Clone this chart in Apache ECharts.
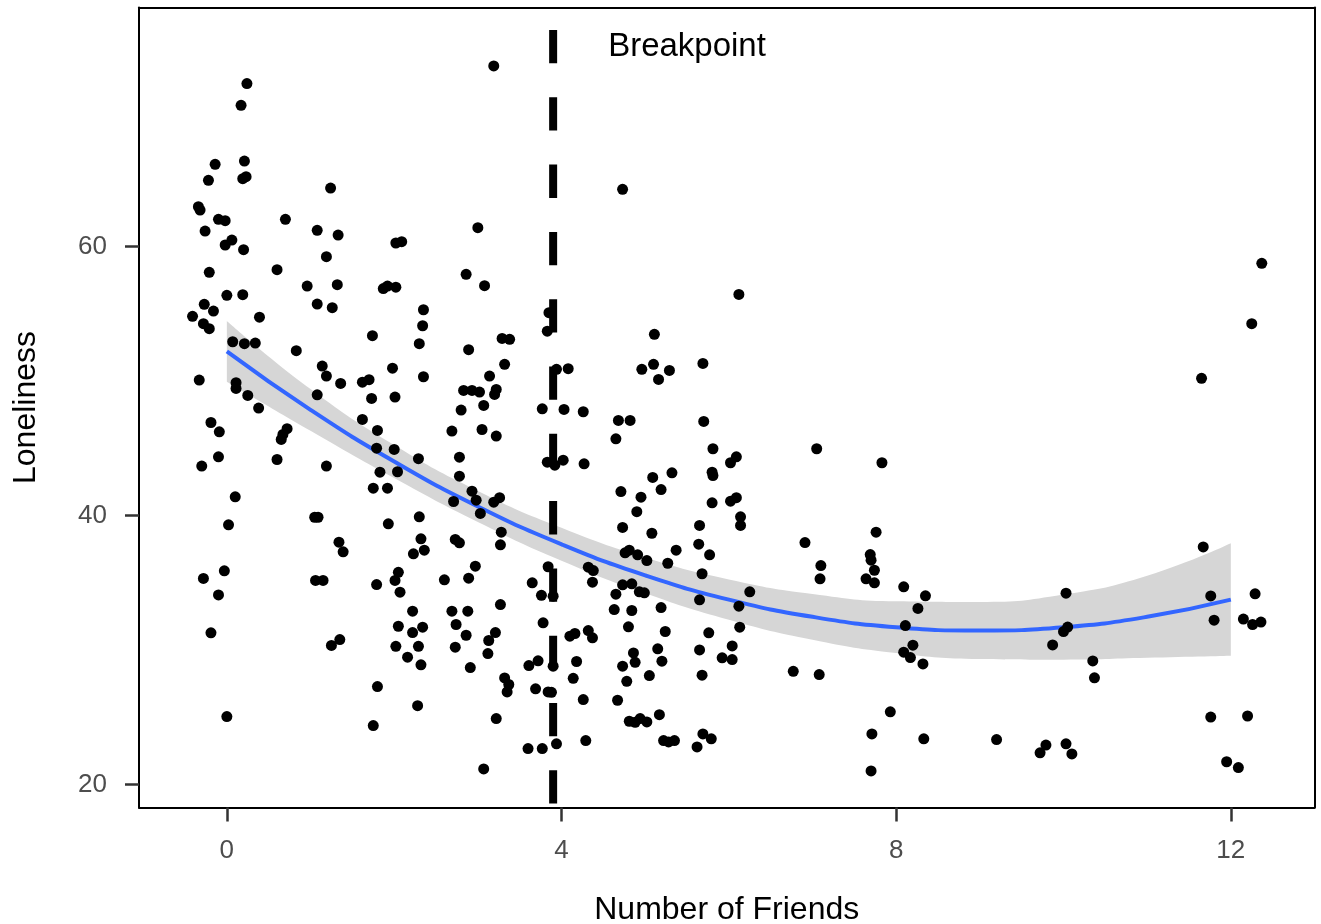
<!DOCTYPE html>
<html>
<head>
<meta charset="utf-8">
<title>Loneliness vs Number of Friends</title>
<script src="https://cdn.jsdelivr.net/npm/echarts@6/dist/echarts.min.js"></script>
<style>
  html, body { margin: 0; padding: 0; background: #fff; }
  #chart { width: 1321px; height: 924px; }
</style>
</head>
<body>
<div id="chart"></div>
<script>
// observed points (jittered friend counts)
const friends = [
  0.24, 0.17, -0.14, 0.21, 0.23, 0.19, -0.22, 1.24, -0.34, -0.32,
  -0.10, -0.02, 0.70, -0.26, 1.08, 1.33, 0.06, -0.02, 0.20, 1.19,
  -0.21, 0.60, 0.96, 1.32, 0.00, 0.19, -0.27, -0.16, -0.41, -0.28,
  -0.21, 0.39, 1.08, 1.26, 0.07, 0.21, 0.34, 0.83, 1.14, 1.19,
  1.36, -0.33, 0.11, 0.11, 0.25, 1.08, 0.38, -0.19, -0.09, 0.72,
  0.67, 0.65, -0.10, -0.30, 0.60, 1.19, 0.10, 0.02, 1.05, 1.09,
  1.34, 1.39, -0.03, -0.28, -0.10, 1.06, 1.15, -0.19, 1.35, 1.25,
  0.00,
  3.19, 3.00, 2.02, 2.09, 2.86, 3.08, 1.87, 1.92, 2.02, 2.35,
  2.34, 2.30, 1.74, 3.29, 3.38, 2.89, 3.32, 1.98, 2.35, 3.14,
  1.70, 1.62, 1.73, 2.01, 2.83, 2.93, 3.02, 3.22, 3.20, 2.80,
  3.07, 3.77, 3.85, 3.83, 3.94, 4.03,
  1.62, 1.80, 2.69, 3.05, 3.22, 1.79, 2.00, 2.29, 2.78, 1.83,
  2.04, 2.78, 1.75, 1.92, 2.93, 2.98, 2.71, 3.19, 3.26, 3.03,
  3.28, 3.27, 3.83, 3.92, 1.93, 2.30, 2.32, 2.36, 2.23, 2.73,
  2.78, 3.84, 2.05, 2.01, 1.79, 2.07, 2.60, 2.97, 2.89, 3.65,
  3.76, 3.90, 3.27, 2.22, 2.69, 2.88, 2.05, 2.34, 2.22, 2.74,
  2.86, 3.21, 3.13, 3.78, 2.02, 2.29, 2.16, 2.32, 2.73, 3.12,
  2.91, 3.61, 3.72, 3.90, 1.80, 3.32, 3.37, 3.35, 3.69, 3.84,
  3.88, 2.28, 1.75, 3.22, 3.60, 3.77, 3.94, 3.07,
  4.73, 6.12, 5.11, 4.08, 4.96, 5.10, 5.29, 5.16, 5.69, 4.26,
  4.68, 4.82, 4.65, 5.70, 5.81, 6.02, 6.09, 5.80, 5.81, 4.02,
  4.27, 4.71, 4.95, 5.09, 5.32, 5.19, 4.90, 5.80, 6.02, 6.09,
  6.14, 6.14, 4.73, 5.08, 5.65, 5.64, 5.37, 5.77, 4.76, 4.81,
  4.91, 5.02, 5.27, 5.68, 4.32, 4.38, 4.37, 4.73, 4.84, 4.93,
  4.99, 4.65, 5.65, 6.25, 6.12, 4.63, 4.84, 5.19, 4.80, 5.24,
  5.76, 6.13, 4.10, 4.16, 4.32, 4.37, 5.15, 5.65, 6.04, 5.92,
  6.04, 4.86, 4.88, 4.73, 5.20, 4.18, 4.14, 4.78, 5.05, 5.68,
  4.26, 4.67, 4.81, 4.88, 4.94, 5.02, 5.17, 4.29, 5.22, 5.28,
  5.35, 5.69, 5.79, 5.62,
  7.05, 7.83, 7.76, 6.91, 7.10, 7.09, 7.69, 7.70, 7.74, 7.64,
  7.74, 8.09, 8.35, 8.26, 8.11, 8.20, 8.09, 8.17, 8.32, 6.77,
  7.08, 7.93, 7.71, 8.33, 9.20, 7.70, 12.37, 12.25, 11.65, 11.67,
  10.03, 11.76, 12.29, 11.80, 12.15, 12.26, 12.36, 10.05, 10.00, 9.87,
  10.35, 10.37, 11.76, 12.20, 9.79, 9.72, 10.03, 10.10, 11.95, 12.09
]

const loneliness = [
  72.10, 70.48, 66.10, 66.34, 65.18, 65.03, 64.91, 64.33, 62.95, 62.70,
  62.01, 61.91, 62.01, 61.14, 61.19, 60.84, 60.47, 60.10, 59.75, 59.23,
  58.07, 58.27, 57.05, 57.15, 56.36, 56.41, 55.69, 55.19, 54.80, 54.25,
  53.88, 54.74, 55.71, 55.44, 52.91, 52.77, 52.81, 52.25, 51.10, 50.36,
  49.81, 50.06, 49.87, 49.44, 48.92, 48.97, 47.98, 46.91, 46.22, 46.45,
  46.02, 45.65, 44.36, 43.67, 44.16, 43.67, 41.39, 39.31, 39.87, 39.87,
  38.02, 37.30, 35.89, 35.32, 34.10, 35.17, 35.17, 31.28, 30.78, 30.34,
  25.06,
  73.41, 61.39, 60.25, 60.35, 57.92, 57.08, 56.86, 57.05, 56.97, 55.29,
  54.10, 52.77, 53.36, 53.16, 53.09, 52.32, 51.23, 50.95, 50.31, 50.36,
  50.09, 49.91, 48.70, 48.80, 49.29, 49.29, 49.17, 49.37, 49.00, 47.83,
  48.18, 47.93, 55.07, 53.70, 50.86, 47.88,
  47.14, 46.32, 46.27, 46.39, 45.90, 45.00, 44.91, 44.22, 44.33, 43.22,
  43.25, 42.92, 42.03, 42.03, 41.81, 41.14, 41.04, 40.99, 41.32, 40.15,
  38.76, 37.82, 43.96, 43.74, 39.38, 39.90, 38.27, 37.42, 37.15, 38.22,
  37.97, 36.19, 35.78, 35.17, 34.87, 34.30, 35.22, 36.23, 35.34, 35.00,
  34.07, 34.00, 33.38, 32.89, 32.89, 32.89, 31.77, 31.70, 31.30, 31.90,
  31.10, 31.30, 30.71, 32.02, 30.28, 30.28, 29.47, 28.90, 30.21, 29.74,
  28.70, 28.85, 29.20, 28.80, 27.29, 27.93, 27.44, 26.89, 27.12, 26.89,
  26.86, 25.87, 24.39, 24.91, 22.68, 22.68, 23.03, 21.17,
  64.24, 56.43, 53.46, 50.91, 50.86, 51.23, 50.78, 50.11, 51.30, 47.71,
  47.06, 47.06, 45.70, 46.99, 44.96, 43.92, 44.36, 43.22, 42.97, 44.11,
  43.84, 41.78, 41.36, 42.83, 43.17, 41.93, 40.28, 40.94, 41.06, 41.32,
  39.90, 39.26, 39.11, 38.68, 39.26, 37.87, 37.42, 37.08, 37.23, 37.42,
  37.08, 36.65, 36.45, 35.67, 36.16, 35.91, 35.04, 34.85, 34.92, 34.33,
  34.25, 34.15, 33.73, 34.33, 33.26, 33.01, 32.94, 33.16, 31.73, 31.38,
  31.28, 31.70, 31.03, 31.23, 31.45, 30.91, 30.09, 30.01, 30.31, 29.42,
  29.29, 29.79, 29.09, 28.80, 29.17, 29.15, 27.90, 27.68, 28.10, 28.13,
  26.32, 26.27, 24.71, 24.63, 24.91, 24.66, 25.20, 23.27, 23.27, 23.17,
  23.27, 23.77, 23.40, 22.80,
  44.96, 43.92, 38.76, 37.99, 36.28, 35.29, 37.10, 36.68, 35.93, 35.29,
  35.00, 34.70, 34.03, 33.09, 31.82, 30.36, 29.84, 29.44, 28.97, 28.42,
  28.18, 25.41, 23.77, 23.40, 23.35, 21.02, 58.74, 54.25, 50.19, 37.66,
  34.23, 34.02, 34.18, 32.22, 32.30, 31.90, 32.08, 31.71, 31.37, 30.38,
  29.19, 27.94, 25.02, 25.10, 22.94, 22.36, 23.03, 22.28, 21.70, 21.27
]

// smooth fit, with its confidence band
const fitX = [0, 1, 2, 3, 4, 5, 6, 7, 8, 9, 10, 11, 12]
const fitY = [52.20, 47.85, 44.01, 40.67, 37.86, 35.55, 33.75, 32.47, 31.70, 31.45, 31.70, 32.47, 33.75]
const bandLower = [49.94, 46.30, 42.79, 39.52, 36.64, 34.22, 32.25, 30.77, 29.78, 29.33, 29.28, 29.42, 29.57]
const bandUpper = [54.46, 49.40, 45.23, 41.82, 39.08, 36.88, 35.25, 34.17, 33.62, 33.57, 34.12, 35.52, 37.93]

const breakpoint = 3.9
const labelPos = [5.5, 74.8]

const xTicks = [0, 4, 8, 12]
const yTicks = [20, 40, 60]
const xRange = [-1.05, 13.0]
const yRange = [18.3, 77.75]

const font = '"Liberation Sans", Arial, Helvetica, sans-serif'

const chart = echarts.init(document.getElementById('chart'))

const points = friends.map((x, i) => [x, loneliness[i]])

// ribbon rows are [value, x] so the stack runs on the y dimension
const ribbonBase = fitX.map((x, i) => [bandLower[i], x])
const ribbonSpan = fitX.map((x, i) => [bandUpper[i] - bandLower[i], x])

const frameLine = { show: true, onZero: false, lineStyle: { color: '#000', width: 2 } }
const tickStyle = { show: true, length: 14, lineStyle: { color: '#333', width: 2.5 } }

const option = {
  animation: false,
  textStyle: { fontFamily: font },
  grid: {
    left: 139,
    right: 6.5,
    top: 7.5,
    bottom: 116.5,
    show: false,
    containLabel: false,
    outerBoundsMode: 'none',
  },
  xAxis: [
    {
      type: 'value',
      min: xRange[0],
      max: xRange[1],
      z: 10,
      splitLine: { show: false },
      axisLine: frameLine,
      axisTick: Object.assign({ customValues: xTicks }, tickStyle),
      axisLabel: {
        customValues: xTicks,
        fontSize: 26,
        color: '#4d4d4d',
        margin: 30,
        fontFamily: font,
      },
      name: 'Number of Friends',
      nameLocation: 'middle',
      nameGap: 87,
      nameTextStyle: { fontSize: 32, color: '#000', fontFamily: font },
    },
    {
      type: 'value',
      position: 'top',
      min: xRange[0],
      max: xRange[1],
      z: 10,
      splitLine: { show: false },
      axisLine: frameLine,
      axisTick: { show: false },
      axisLabel: { show: false },
    },
  ],
  yAxis: [
    {
      type: 'value',
      min: yRange[0],
      max: yRange[1],
      z: 10,
      splitLine: { show: false },
      axisLine: frameLine,
      axisTick: Object.assign({ customValues: yTicks }, tickStyle),
      axisLabel: {
        customValues: yTicks,
        fontSize: 26,
        color: '#4d4d4d',
        margin: 32,
        fontFamily: font,
      },
      name: 'Loneliness',
      nameLocation: 'middle',
      nameRotate: 90,
      nameGap: 97,
      nameTextStyle: { fontSize: 32, color: '#000', fontFamily: font },
    },
    {
      type: 'value',
      position: 'right',
      min: yRange[0],
      max: yRange[1],
      z: 10,
      splitLine: { show: false },
      axisLine: frameLine,
      axisTick: { show: false },
      axisLabel: { show: false },
    },
  ],
  series: [
    {
      type: 'line',
      data: ribbonBase,
      encode: { x: 1, y: 0 },
      stack: 'band',
      smooth: true,
      symbol: 'none',
      silent: true,
      lineStyle: { opacity: 0 },
      z: 1,
    },
    {
      type: 'line',
      data: ribbonSpan,
      encode: { x: 1, y: 0 },
      stack: 'band',
      smooth: true,
      symbol: 'none',
      silent: true,
      lineStyle: { opacity: 0 },
      areaStyle: { color: '#d6d6d6', opacity: 1 },
      z: 1,
    },
    {
      type: 'line',
      data: fitX.map((x, i) => [x, fitY[i]]),
      smooth: true,
      symbol: 'none',
      silent: true,
      lineStyle: { color: '#3366ff', width: 4 },
      z: 3,
    },
    {
      type: 'line',
      data: [[breakpoint, yRange[1]], [breakpoint, yRange[0]]],
      symbol: 'none',
      silent: true,
      lineStyle: { color: '#000', width: 8, type: [33.3, 34], dashOffset: 44.8 },
      z: 4,
    },
    {
      type: 'scatter',
      data: points,
      symbol: 'circle',
      symbolSize: 11,
      itemStyle: { color: '#000', opacity: 1 },
      z: 5,
    },
    {
      type: 'scatter',
      data: [labelPos],
      symbolSize: 1,
      itemStyle: { color: 'rgba(0,0,0,0)', opacity: 1 },
      label: {
        show: true,
        position: 'inside',
        formatter: 'Breakpoint',
        fontSize: 33,
        color: '#000',
        fontFamily: font,
      },
      z: 6,
    },
  ],
}

chart.setOption(option)
</script>
</body>
</html>
